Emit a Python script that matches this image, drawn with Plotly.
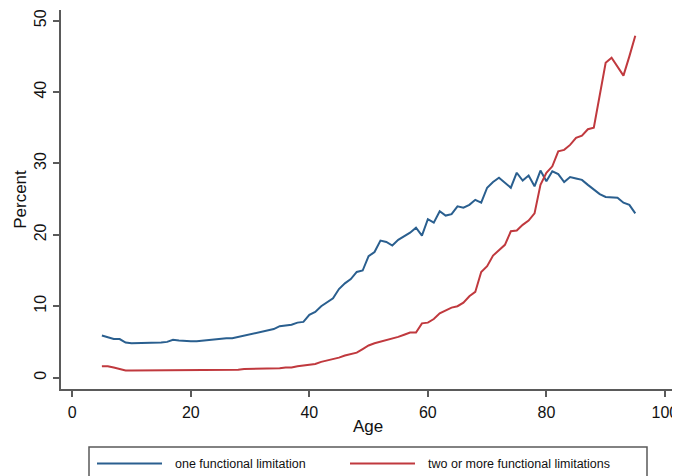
import plotly.graph_objects as go

ages = list(range(5, 96))
one_limitation = [
    5.9, 5.6, 5.4, 5.4, 4.9, 4.8, 4.8, 4.8, 4.8, 4.8,   # 5-14
    4.9, 5.0, 5.3, 5.2, 5.1, 5.1, 5.1, 5.2, 5.2, 5.3,   # 15-24
    5.4, 5.5, 5.5, 5.7, 5.8, 6.0, 6.2, 6.5, 6.7, 6.8,   # 25-34
    7.2, 7.3, 7.4, 7.7, 7.8, 8.8, 9.2, 10.0, 10.6, 11.1,  # 35-44
    12.4, 13.2, 13.8, 14.8, 15.0, 17.0, 17.6, 19.2, 19.0, 18.5,  # 45-54
    19.3, 19.8, 20.3, 21.0, 19.9, 22.2, 21.7, 23.3, 22.7, 22.9,  # 55-64
    24.0, 23.8, 24.2, 24.9, 24.5, 26.6, 27.4, 28.0, 27.3, 26.6,  # 65-74
    28.7, 27.6, 28.3, 26.8, 29.0, 27.5, 28.9, 28.5, 27.4, 28.1,  # 75-84
    27.9, 27.7, 27.0, 26.3, 25.7, 25.3, 25.2, 25.2, 24.5, 24.2,  # 85-94
    23.0,  # 95
]
two_or_more = [
    1.6, 1.6, 1.4, 1.2, 1.0, 1.0, 1.0, 1.0, 1.0, 1.0,   # 5-14
    1.0, 1.0, 1.0, 1.0, 1.0, 1.0, 1.0, 1.0, 1.0, 1.0,   # 15-24
    1.0, 1.0, 1.0, 1.1, 1.2, 1.2, 1.2, 1.2, 1.2, 1.2,   # 25-34
    1.3, 1.4, 1.4, 1.6, 1.7, 1.8, 1.9, 2.2, 2.4, 2.5,   # 35-44
    2.8, 3.1, 3.3, 3.5, 4.0, 4.5, 4.8, 5.0, 5.2, 5.4,   # 45-54
    5.7, 6.0, 6.3, 6.3, 7.6, 7.7, 8.2, 9.0, 9.4, 9.8,   # 55-64
    10.0, 10.5, 11.4, 12.0, 14.8, 15.6, 17.1, 17.8, 18.6, 20.5,  # 65-74
    20.6, 21.4, 22.0, 23.0, 27.0, 28.7, 29.6, 31.7, 31.9, 32.6,  # 75-84
    33.6, 33.9, 34.8, 35.0, 39.5, 44.1, 44.8, 43.6, 42.3, 45.0,  # 85-94
    47.9,  # 95
]
series_names = ["one functional limitation", "two or more functional limitations"]
x_ticks = [0, 20, 40, 60, 80, 100]
y_ticks = [0, 10, 20, 30, 40, 50]

BLUE = "#2a5f8f"
RED = "#c0393e"
AXIS = "#5a5a5a"
FONT = "Liberation Sans, Arial, sans-serif"

OFF = 8  # default page body margin
W, H = 680 - OFF, 476 - OFF
L, R, T, B = 53, 5, 2, 87
pw, ph = W - L - R, H - T - B

def px(x):  # page pixel -> paper
    return (x - OFF - L) / pw

def py(y):
    return (H - B - (y - OFF)) / ph

fig = go.Figure()
fig.add_trace(go.Scatter(x=ages, y=one_limitation, mode="lines",
                         line=dict(color=BLUE, width=2), name=series_names[0],
                         showlegend=False))
fig.add_trace(go.Scatter(x=ages, y=two_or_more, mode="lines",
                         line=dict(color=RED, width=2), name=series_names[1],
                         showlegend=False))

axis_common = dict(showgrid=False, zeroline=False, showline=True, linecolor=AXIS,
                   linewidth=2, ticks="outside", ticklen=6, tickwidth=1.5,
                   tickcolor=AXIS, automargin=False,
                   tickfont=dict(family=FONT, size=16, color="#111"))

fig.update_layout(
    width=W, height=H,
    margin=dict(l=L, r=R, t=T, b=B),
    paper_bgcolor="white", plot_bgcolor="white",
    font=dict(family=FONT, color="#111"),
    xaxis=dict(range=[-1.9, 101.7], tickvals=x_ticks,
               title=dict(text="Age", font=dict(family=FONT, size=17), standoff=0),
               ticklabelstandoff=2, **axis_common),
    yaxis=dict(range=[-1.6, 51.5], tickvals=y_ticks, tickangle=-90,
               title=dict(text="Percent", font=dict(family=FONT, size=17), standoff=1),
               ticklabelstandoff=1, **axis_common),
    showlegend=False,
)

# legend box (manual, matching reference layout)
fig.add_shape(type="rect", xref="paper", yref="paper",
              x0=px(89), x1=px(647), y0=py(447), y1=py(490),
              line=dict(color=AXIS, width=1.5), fillcolor="white", layer="above")
legend_items = [(97, 162, 173, BLUE, series_names[0]),
                (350, 415, 426, RED, series_names[1])]
for x0, x1, xt, col, name in legend_items:
    fig.add_shape(type="line", xref="paper", yref="paper",
                  x0=px(x0), x1=px(x1), y0=py(463.5), y1=py(463.5),
                  line=dict(color=col, width=2), layer="above")
    fig.add_annotation(xref="paper", yref="paper", x=px(xt), y=py(463.5),
                       text=name, showarrow=False, xanchor="left", yanchor="middle",
                       font=dict(family=FONT, size=12.5, color="#111"))

fig.write_html("out.html")
